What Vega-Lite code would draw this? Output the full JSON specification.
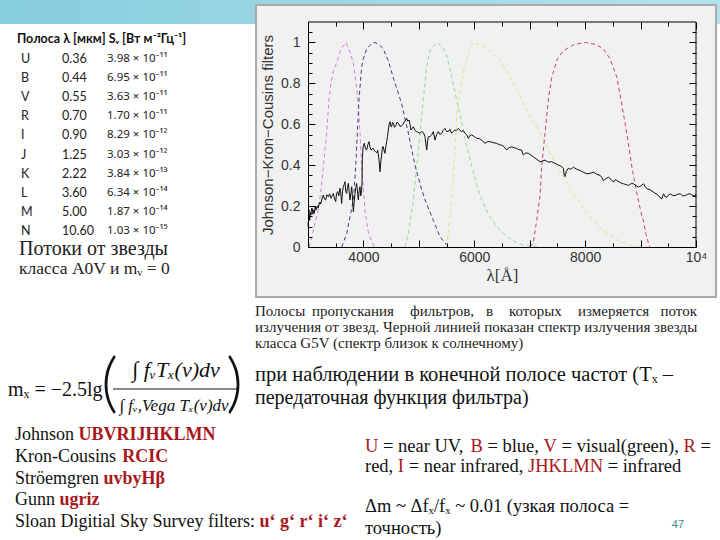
{
"$schema":"https://vega.github.io/schema/vega-lite/v6.json",
"width":388,"height":225,
"autosize":{"type":"none"},
"padding":{"left":308,"top":22,"right":24,"bottom":293},
"background":"white",
"config":{"view":{"stroke":null}},
"datasets":{
"filters":[
{"band":"U","wl":3020,"t":0},{"band":"U","wl":3080,"t":0.06},{"band":"U","wl":3130,"t":0.12},{"band":"U","wl":3186,"t":0.18},{"band":"U","wl":3240,"t":0.29},{"band":"U","wl":3276,"t":0.39},{"band":"U","wl":3337,"t":0.556},{"band":"U","wl":3379,"t":0.72},{"band":"U","wl":3420,"t":0.81},{"band":"U","wl":3470,"t":0.87},{"band":"U","wl":3517,"t":0.9},{"band":"U","wl":3600,"t":0.97},{"band":"U","wl":3686,"t":1.0},{"band":"U","wl":3760,"t":0.95},{"band":"U","wl":3818,"t":0.9},{"band":"U","wl":3878,"t":0.78},{"band":"U","wl":3908,"t":0.69},{"band":"U","wl":3940,"t":0.55},{"band":"U","wl":3969,"t":0.39},{"band":"U","wl":4000,"t":0.28},{"band":"U","wl":4028,"t":0.18},{"band":"U","wl":4060,"t":0.12},{"band":"U","wl":4088,"t":0.075},{"band":"U","wl":4149,"t":0.027},{"band":"U","wl":4200,"t":0},
{"band":"B","wl":3608,"t":0},{"band":"B","wl":3698,"t":0.065},{"band":"B","wl":3758,"t":0.148},{"band":"B","wl":3818,"t":0.23},{"band":"B","wl":3860,"t":0.39},{"band":"B","wl":3890,"t":0.556},{"band":"B","wl":3920,"t":0.72},{"band":"B","wl":3968,"t":0.88},{"band":"B","wl":3998,"t":0.92},{"band":"B","wl":4060,"t":0.97},{"band":"B","wl":4150,"t":0.995},{"band":"B","wl":4209,"t":1.0},{"band":"B","wl":4280,"t":0.99},{"band":"B","wl":4355,"t":0.97},{"band":"B","wl":4450,"t":0.91},{"band":"B","wl":4536,"t":0.83},{"band":"B","wl":4690,"t":0.7},{"band":"B","wl":4800,"t":0.57},{"band":"B","wl":4930,"t":0.4},{"band":"B","wl":5018,"t":0.31},{"band":"B","wl":5111,"t":0.23},{"band":"B","wl":5261,"t":0.13},{"band":"B","wl":5381,"t":0.05},{"band":"B","wl":5502,"t":0.01},{"band":"B","wl":5560,"t":0},
{"band":"V","wl":4750,"t":0},{"band":"V","wl":4810,"t":0.065},{"band":"V","wl":4900,"t":0.23},{"band":"V","wl":4990,"t":0.47},{"band":"V","wl":5080,"t":0.72},{"band":"V","wl":5139,"t":0.88},{"band":"V","wl":5200,"t":0.96},{"band":"V","wl":5320,"t":1.0},{"band":"V","wl":5420,"t":0.98},{"band":"V","wl":5500,"t":0.94},{"band":"V","wl":5560,"t":0.87},{"band":"V","wl":5620,"t":0.8},{"band":"V","wl":5680,"t":0.72},{"band":"V","wl":5742,"t":0.65},{"band":"V","wl":5830,"t":0.53},{"band":"V","wl":5923,"t":0.43},{"band":"V","wl":6010,"t":0.34},{"band":"V","wl":6103,"t":0.25},{"band":"V","wl":6253,"t":0.16},{"band":"V","wl":6404,"t":0.1},{"band":"V","wl":6554,"t":0.06},{"band":"V","wl":6705,"t":0.03},{"band":"V","wl":6850,"t":0.012},{"band":"V","wl":7005,"t":0.004},{"band":"V","wl":7186,"t":0},
{"band":"R","wl":5502,"t":0},{"band":"R","wl":5562,"t":0.148},{"band":"R","wl":5610,"t":0.311},{"band":"R","wl":5652,"t":0.474},{"band":"R","wl":5682,"t":0.636},{"band":"R","wl":5712,"t":0.72},{"band":"R","wl":5801,"t":0.85},{"band":"R","wl":5900,"t":0.96},{"band":"R","wl":5982,"t":1.0},{"band":"R","wl":6100,"t":0.99},{"band":"R","wl":6283,"t":0.96},{"band":"R","wl":6500,"t":0.9},{"band":"R","wl":6790,"t":0.76},{"band":"R","wl":7000,"t":0.64},{"band":"R","wl":7186,"t":0.56},{"band":"R","wl":7400,"t":0.44},{"band":"R","wl":7700,"t":0.3},{"band":"R","wl":7970,"t":0.19},{"band":"R","wl":8271,"t":0.09},{"band":"R","wl":8572,"t":0.035},{"band":"R","wl":8800,"t":0.01},{"band":"R","wl":9000,"t":0},
{"band":"I","wl":7005,"t":0},{"band":"I","wl":7065,"t":0.02},{"band":"I","wl":7126,"t":0.13},{"band":"I","wl":7186,"t":0.25},{"band":"I","wl":7216,"t":0.39},{"band":"I","wl":7276,"t":0.556},{"band":"I","wl":7336,"t":0.72},{"band":"I","wl":7398,"t":0.83},{"band":"I","wl":7500,"t":0.92},{"band":"I","wl":7608,"t":0.96},{"band":"I","wl":7800,"t":0.99},{"band":"I","wl":8000,"t":1.0},{"band":"I","wl":8200,"t":0.99},{"band":"I","wl":8331,"t":0.967},{"band":"I","wl":8450,"t":0.92},{"band":"I","wl":8572,"t":0.83},{"band":"I","wl":8660,"t":0.7},{"band":"I","wl":8753,"t":0.553},{"band":"I","wl":8850,"t":0.38},{"band":"I","wl":8934,"t":0.26},{"band":"I","wl":9000,"t":0.18},{"band":"I","wl":9049,"t":0.13},{"band":"I","wl":9100,"t":0.06},{"band":"I","wl":9140,"t":0.02},{"band":"I","wl":9170,"t":0}
],
"spectrum":[
{"wl":3000,"f":0.12},{"wl":3006,"f":0.099},{"wl":3012,"f":0.16},{"wl":3018,"f":0.181},{"wl":3030,"f":0.13},{"wl":3042,"f":0.17},{"wl":3054,"f":0.156},{"wl":3066,"f":0.19},{"wl":3078,"f":0.189},{"wl":3090,"f":0.16},{"wl":3102,"f":0.18},{"wl":3114,"f":0.165},{"wl":3130,"f":0.2},{"wl":3145,"f":0.18},{"wl":3156,"f":0.197},{"wl":3170,"f":0.2},{"wl":3185,"f":0.19},{"wl":3198,"f":0.21},{"wl":3215,"f":0.22},{"wl":3230,"f":0.21},{"wl":3247,"f":0.23},{"wl":3262,"f":0.245},{"wl":3277,"f":0.254},{"wl":3295,"f":0.235},{"wl":3319,"f":0.23},{"wl":3340,"f":0.255},{"wl":3367,"f":0.246},{"wl":3390,"f":0.26},{"wl":3415,"f":0.238},{"wl":3435,"f":0.25},{"wl":3457,"f":0.262},{"wl":3475,"f":0.24},{"wl":3499,"f":0.222},{"wl":3515,"f":0.26},{"wl":3535,"f":0.271},{"wl":3555,"f":0.25},{"wl":3577,"f":0.287},{"wl":3592,"f":0.26},{"wl":3607,"f":0.213},{"wl":3622,"f":0.27},{"wl":3637,"f":0.295},{"wl":3652,"f":0.305},{"wl":3667,"f":0.319},{"wl":3682,"f":0.27},{"wl":3698,"f":0.262},{"wl":3712,"f":0.29},{"wl":3728,"f":0.311},{"wl":3743,"f":0.27},{"wl":3758,"f":0.23},{"wl":3773,"f":0.26},{"wl":3788,"f":0.295},{"wl":3803,"f":0.24},{"wl":3818,"f":0.173},{"wl":3833,"f":0.22},{"wl":3848,"f":0.262},{"wl":3863,"f":0.29},{"wl":3878,"f":0.311},{"wl":3893,"f":0.27},{"wl":3908,"f":0.23},{"wl":3923,"f":0.275},{"wl":3938,"f":0.295},{"wl":3953,"f":0.25},{"wl":3968,"f":0.279},{"wl":3975,"f":0.32},{"wl":3980,"f":0.434},{"wl":3995,"f":0.49},{"wl":4016,"f":0.507},{"wl":4037,"f":0.48},{"wl":4058,"f":0.474},{"wl":4080,"f":0.5},{"wl":4100,"f":0.515},{"wl":4118,"f":0.49},{"wl":4137,"f":0.474},{"wl":4158,"f":0.48},{"wl":4179,"f":0.482},{"wl":4200,"f":0.47},{"wl":4221,"f":0.466},{"wl":4240,"f":0.46},{"wl":4257,"f":0.474},{"wl":4280,"f":0.43},{"wl":4299,"f":0.368},{"wl":4314,"f":0.42},{"wl":4329,"f":0.45},{"wl":4344,"f":0.49},{"wl":4359,"f":0.49},{"wl":4374,"f":0.47},{"wl":4389,"f":0.458},{"wl":4404,"f":0.49},{"wl":4419,"f":0.515},{"wl":4434,"f":0.54},{"wl":4449,"f":0.572},{"wl":4464,"f":0.6},{"wl":4479,"f":0.613},{"wl":4494,"f":0.59},{"wl":4509,"f":0.588},{"wl":4525,"f":0.61},{"wl":4540,"f":0.605},{"wl":4560,"f":0.585},{"wl":4582,"f":0.592},{"wl":4605,"f":0.61},{"wl":4630,"f":0.605},{"wl":4660,"f":0.59},{"wl":4690,"f":0.592},{"wl":4715,"f":0.6},{"wl":4738,"f":0.613},{"wl":4760,"f":0.62},{"wl":4780,"f":0.629},{"wl":4800,"f":0.615},{"wl":4822,"f":0.621},{"wl":4840,"f":0.6},{"wl":4858,"f":0.572},{"wl":4880,"f":0.58},{"wl":4900,"f":0.588},{"wl":4930,"f":0.57},{"wl":4960,"f":0.564},{"wl":4990,"f":0.56},{"wl":5021,"f":0.556},{"wl":5050,"f":0.565},{"wl":5081,"f":0.559},{"wl":5110,"f":0.54},{"wl":5141,"f":0.474},{"wl":5160,"f":0.52},{"wl":5171,"f":0.539},{"wl":5200,"f":0.54},{"wl":5231,"f":0.548},{"wl":5261,"f":0.564},{"wl":5291,"f":0.523},{"wl":5320,"f":0.55},{"wl":5351,"f":0.564},{"wl":5380,"f":0.55},{"wl":5411,"f":0.556},{"wl":5440,"f":0.57},{"wl":5472,"f":0.58},{"wl":5500,"f":0.565},{"wl":5532,"f":0.564},{"wl":5560,"f":0.575},{"wl":5592,"f":0.556},{"wl":5620,"f":0.565},{"wl":5652,"f":0.572},{"wl":5680,"f":0.57},{"wl":5712,"f":0.58},{"wl":5740,"f":0.57},{"wl":5772,"f":0.564},{"wl":5800,"f":0.57},{"wl":5832,"f":0.556},{"wl":5860,"f":0.55},{"wl":5893,"f":0.531},{"wl":5920,"f":0.545},{"wl":5953,"f":0.548},{"wl":6000,"f":0.54},{"wl":6043,"f":0.531},{"wl":6090,"f":0.53},{"wl":6133,"f":0.523},{"wl":6160,"f":0.515},{"wl":6193,"f":0.507},{"wl":6240,"f":0.515},{"wl":6284,"f":0.515},{"wl":6340,"f":0.51},{"wl":6404,"f":0.507},{"wl":6450,"f":0.5},{"wl":6494,"f":0.498},{"wl":6540,"f":0.49},{"wl":6584,"f":0.474},{"wl":6620,"f":0.485},{"wl":6674,"f":0.49},{"wl":6720,"f":0.485},{"wl":6765,"f":0.482},{"wl":6810,"f":0.475},{"wl":6855,"f":0.474},{"wl":6870,"f":0.46},{"wl":6885,"f":0.45},{"wl":6930,"f":0.46},{"wl":6975,"f":0.458},{"wl":7020,"f":0.45},{"wl":7065,"f":0.441},{"wl":7120,"f":0.43},{"wl":7186,"f":0.417},{"wl":7230,"f":0.42},{"wl":7276,"f":0.425},{"wl":7330,"f":0.415},{"wl":7396,"f":0.417},{"wl":7450,"f":0.41},{"wl":7516,"f":0.401},{"wl":7560,"f":0.395},{"wl":7590,"f":0.39},{"wl":7607,"f":0.385},{"wl":7622,"f":0.35},{"wl":7637,"f":0.344},{"wl":7660,"f":0.37},{"wl":7697,"f":0.385},{"wl":7740,"f":0.38},{"wl":7789,"f":0.39},{"wl":7850,"f":0.38},{"wl":7910,"f":0.374},{"wl":7970,"f":0.365},{"wl":8030,"f":0.358},{"wl":8090,"f":0.36},{"wl":8151,"f":0.366},{"wl":8210,"f":0.355},{"wl":8271,"f":0.35},{"wl":8300,"f":0.34},{"wl":8331,"f":0.325},{"wl":8380,"f":0.335},{"wl":8422,"f":0.341},{"wl":8470,"f":0.33},{"wl":8512,"f":0.317},{"wl":8545,"f":0.33},{"wl":8572,"f":0.325},{"wl":8630,"f":0.315},{"wl":8693,"f":0.309},{"wl":8740,"f":0.305},{"wl":8783,"f":0.301},{"wl":8830,"f":0.31},{"wl":8873,"f":0.309},{"wl":8920,"f":0.3},{"wl":8964,"f":0.293},{"wl":9010,"f":0.3},{"wl":9054,"f":0.309},{"wl":9085,"f":0.295},{"wl":9114,"f":0.285},{"wl":9170,"f":0.28},{"wl":9235,"f":0.268},{"wl":9280,"f":0.26},{"wl":9325,"f":0.252},{"wl":9355,"f":0.24},{"wl":9385,"f":0.236},{"wl":9400,"f":0.25},{"wl":9415,"f":0.26},{"wl":9445,"f":0.245},{"wl":9476,"f":0.244},{"wl":9506,"f":0.255},{"wl":9536,"f":0.26},{"wl":9580,"f":0.252},{"wl":9626,"f":0.252},{"wl":9670,"f":0.258},{"wl":9717,"f":0.26},{"wl":9760,"f":0.25},{"wl":9807,"f":0.252},{"wl":9850,"f":0.258},{"wl":9897,"f":0.26},{"wl":9950,"f":0.25},{"wl":10000,"f":0.255}
],
"table":[
{"band":"U","lam":0.36,"flux":"3.98 × 10⁻¹¹"},
{"band":"B","lam":0.44,"flux":"6.95 × 10⁻¹¹"},
{"band":"V","lam":0.55,"flux":"3.63 × 10⁻¹¹"},
{"band":"R","lam":0.70,"flux":"1.70 × 10⁻¹¹"},
{"band":"I","lam":0.90,"flux":"8.29 × 10⁻¹²"},
{"band":"J","lam":1.25,"flux":"3.03 × 10⁻¹²"},
{"band":"K","lam":2.22,"flux":"3.84 × 10⁻¹³"},
{"band":"L","lam":3.60,"flux":"6.34 × 10⁻¹⁴"},
{"band":"M","lam":5.00,"flux":"1.87 × 10⁻¹⁴"},
{"band":"N","lam":10.60,"flux":"1.03 × 10⁻¹⁵"}
],
"families":[
{"line":1,"name":"Johnson","filters":"UBVRIJHKLMN"},
{"line":2,"name":"Kron-Cousins","filters":"RCIC"},
{"line":3,"name":"Ströemgren","filters":"uvbyHβ"},
{"line":4,"name":"Gunn","filters":"ugriz"},
{"line":5,"name":"Sloan Digitial Sky Survey filters:","filters":"u‘ g‘ r‘ i‘ z‘"}
],
"bandnames":[
{"line":1,"seg":1,"kind":"hl","text":"U"},
{"line":1,"seg":2,"kind":"plain","text":"= near UV,"},
{"line":1,"seg":3,"kind":"hl","text":"B"},
{"line":1,"seg":4,"kind":"plain","text":"= blue,"},
{"line":1,"seg":5,"kind":"hl","text":"V"},
{"line":1,"seg":6,"kind":"plain","text":"= visual(green),"},
{"line":1,"seg":7,"kind":"hl","text":"R"},
{"line":1,"seg":8,"kind":"plain","text":"="},
{"line":2,"seg":1,"kind":"plain","text":"red,"},
{"line":2,"seg":2,"kind":"hl","text":"I"},
{"line":2,"seg":3,"kind":"plain","text":"= near infrared,"},
{"line":2,"seg":4,"kind":"hl","text":"JHKLMN"},
{"line":2,"seg":5,"kind":"plain","text":"= infrared"}
]
},
"layer":[
{
"layer":[
{"data":{"values":[{}]},"mark":{"type":"rect","fill":{"gradient":"linear","x1":0,"y1":0,"x2":1,"y2":0,"stops":[{"offset":0,"color":"#86cddd"},{"offset":1,"color":"#b4e2ec"}]}},
"encoding":{"x":{"datum":-2557,"type":"quantitative","scale":{"domain":[3000,10000],"nice":false,"zero":false},"axis":null},"x2":{"datum":10433},"y":{"datum":1.2076,"type":"quantitative","scale":{"domain":[0,1.1],"nice":false,"zero":false},"axis":null},"y2":{"datum":1.09}}},
{"data":{"values":[{}]},"mark":{"type":"rect","fill":"#f1f1f1","stroke":"#aaaaaa","strokeWidth":2},
"encoding":{"x":{"datum":2062,"type":"quantitative","scale":{"domain":[3000,10000],"nice":false,"zero":false},
"axis":{"orient":"bottom","values":[4000,6000,8000,10000],"format":"d","labelExpr":"datum.value == 10000 ? '10⁴' : datum.label","ticks":false,"domain":true,"domainColor":"#000","domainWidth":1,"labelPadding":3,"labelFont":"Liberation Sans","labelFontSize":14,"labelColor":"#333","labelFlush":false,"labelOverlap":false,"title":"λ[Å]","titleFont":"Liberation Serif","titleFontSize":17,"titleFontWeight":"normal","titleColor":"#333","titlePadding":3,"grid":false,"zindex":1}},
"x2":{"datum":10361},
"y":{"datum":1.1831,"type":"quantitative","scale":{"domain":[0,1.1],"nice":false,"zero":false},
"axis":{"orient":"left","values":[0,0.2,0.4,0.6,0.8,1],"format":"~g","ticks":false,"domain":true,"domainColor":"#000","domainWidth":1,"labelPadding":8,"labelFont":"Liberation Sans","labelFontSize":14,"labelColor":"#333","labelFlush":false,"labelOverlap":false,"title":"Johnson−Kron−Cousins filters","titleFont":"Liberation Sans","titleFontSize":15,"titleFontWeight":"normal","titleColor":"#333","titlePadding":5,"grid":false,"zindex":1}},
"y2":{"datum":-0.2444}}},
{"data":{"name":"filters"},"mark":{"type":"line","strokeDash":[4,3],"strokeWidth":1},
"encoding":{"x":{"field":"wl","type":"quantitative","scale":{"domain":[3000,10000],"nice":false,"zero":false},
"axis":{"orient":"bottom","values":[3000,4000,5000,6000,7000,8000,9000,10000],"labels":false,"domain":false,"ticks":true,"tickSize":7,"offset":-7,"tickColor":"#000","grid":false,"title":null,"zindex":1}},
"y":{"field":"t","type":"quantitative","scale":{"domain":[0,1.1],"nice":false,"zero":false},
"axis":{"orient":"left","values":[0,0.2,0.4,0.6,0.8,1],"labels":false,"domain":false,"ticks":true,"tickSize":7,"offset":-7,"tickColor":"#000","grid":false,"title":null,"zindex":1}},
"color":{"field":"band","type":"nominal","scale":{"domain":["U","B","V","R","I"],"range":["#cf82d6","#3b3f7c","#8fdc9a","#e3e28a","#c8456b"]},"legend":null}}},
{"data":{"name":"spectrum"},"mark":{"type":"line","color":"#111","strokeWidth":1},
"encoding":{"x":{"field":"wl","type":"quantitative","scale":{"domain":[3000,10000],"nice":false,"zero":false},
"axis":{"orient":"bottom","values":[3500,4500,5500,6500,7500,8500,9500],"labels":false,"domain":false,"ticks":true,"tickSize":4,"offset":-4,"tickColor":"#000","grid":false,"title":null,"zindex":1}},
"y":{"field":"f","type":"quantitative","scale":{"domain":[0,1.1],"nice":false,"zero":false},
"axis":{"orient":"left","values":[0.05,0.1,0.15,0.25,0.3,0.35,0.45,0.5,0.55,0.65,0.7,0.75,0.85,0.9,0.95,1.05],"labels":false,"domain":false,"ticks":true,"tickSize":4,"offset":-4,"tickColor":"#000","grid":false,"title":null,"zindex":1}}}},
{"data":{"values":[{}]},"mark":{"type":"rule","color":"#000","strokeWidth":1},
"encoding":{"x":{"datum":3000,"type":"quantitative","scale":{"domain":[3000,10000],"nice":false,"zero":false},
"axis":{"orient":"top","values":[3000,4000,5000,6000,7000,8000,9000,10000],"labels":false,"domain":false,"ticks":true,"tickSize":7,"offset":-7,"tickColor":"#000","grid":false,"title":null,"zindex":1}},
"x2":{"datum":10000},
"y":{"datum":1.1,"type":"quantitative","scale":{"domain":[0,1.1],"nice":false,"zero":false},
"axis":{"orient":"right","values":[0,0.2,0.4,0.6,0.8,1],"labels":false,"domain":false,"ticks":true,"tickSize":7,"offset":-7,"tickColor":"#000","grid":false,"title":null,"zindex":1}}}},
{"data":{"values":[{}]},"mark":{"type":"rule","color":"#000","strokeWidth":1},
"encoding":{"x":{"datum":10000,"type":"quantitative","scale":{"domain":[3000,10000],"nice":false,"zero":false},
"axis":{"orient":"top","values":[3500,4500,5500,6500,7500,8500,9500],"labels":false,"domain":false,"ticks":true,"tickSize":4,"offset":-4,"tickColor":"#000","grid":false,"title":null,"zindex":1}},
"y":{"datum":0,"type":"quantitative","scale":{"domain":[0,1.1],"nice":false,"zero":false},
"axis":{"orient":"right","values":[0.05,0.1,0.15,0.25,0.3,0.35,0.45,0.5,0.55,0.65,0.7,0.75,0.85,0.9,0.95,1.05],"labels":false,"domain":false,"ticks":true,"tickSize":4,"offset":-4,"tickColor":"#000","grid":false,"title":null,"zindex":1}},
"y2":{"datum":1.1}}},
{"data":{"values":[{}]},"mark":{"type":"text","text":"Полоса λ [мкм] Sᵥ [Вт м⁻²Гц⁻¹]","align":"left","baseline":"middle","font":"Lato","fontSize":12.5,"fontWeight":"bold","color":"#111"},
"encoding":{"x":{"datum":-2250,"type":"quantitative","scale":{"domain":[3000,10000],"nice":false,"zero":false},"axis":null},"y":{"datum":1.0169,"type":"quantitative","scale":{"domain":[0,1.1],"nice":false,"zero":false},"axis":null}}},
{"data":{"values":[{}]},"mark":{"type":"text","text":"Потоки от звезды","align":"left","baseline":"middle","font":"Liberation Serif","fontSize":20,"color":"#222"},
"encoding":{"x":{"datum":-2214,"type":"quantitative","scale":{"domain":[3000,10000],"nice":false,"zero":false},"axis":null},"y":{"datum":-0.0098,"type":"quantitative","scale":{"domain":[0,1.1],"nice":false,"zero":false},"axis":null}}},
{"data":{"values":[{}]},"mark":{"type":"text","text":"класса A0V и mᵥ = 0","align":"left","baseline":"middle","font":"Liberation Serif","fontSize":17.5,"color":"#222"},
"encoding":{"x":{"datum":-2214,"type":"quantitative","scale":{"domain":[3000,10000],"nice":false,"zero":false},"axis":null},"y":{"datum":-0.1076,"type":"quantitative","scale":{"domain":[0,1.1],"nice":false,"zero":false},"axis":null}}},
{"data":{"values":[{}]},"mark":{"type":"text","text":"Полосы","align":"left","baseline":"middle","font":"Liberation Serif","fontSize":15,"color":"#222"},
"encoding":{"x":{"datum":2044,"type":"quantitative","scale":{"domain":[3000,10000],"nice":false,"zero":false},"axis":null},"y":{"datum":-0.3129,"type":"quantitative","scale":{"domain":[0,1.1],"nice":false,"zero":false},"axis":null}}},
{"data":{"values":[{}]},"mark":{"type":"text","text":"пропускания","align":"left","baseline":"middle","font":"Liberation Serif","fontSize":15,"color":"#222"},
"encoding":{"x":{"datum":3072,"type":"quantitative","scale":{"domain":[3000,10000],"nice":false,"zero":false},"axis":null},"y":{"datum":-0.3129,"type":"quantitative","scale":{"domain":[0,1.1],"nice":false,"zero":false},"axis":null}}},
{"data":{"values":[{}]},"mark":{"type":"text","text":"фильтров,","align":"left","baseline":"middle","font":"Liberation Serif","fontSize":15,"color":"#222"},
"encoding":{"x":{"datum":4840,"type":"quantitative","scale":{"domain":[3000,10000],"nice":false,"zero":false},"axis":null},"y":{"datum":-0.3129,"type":"quantitative","scale":{"domain":[0,1.1],"nice":false,"zero":false},"axis":null}}},
{"data":{"values":[{}]},"mark":{"type":"text","text":"в","align":"left","baseline":"middle","font":"Liberation Serif","fontSize":15,"color":"#222"},
"encoding":{"x":{"datum":6211,"type":"quantitative","scale":{"domain":[3000,10000],"nice":false,"zero":false},"axis":null},"y":{"datum":-0.3129,"type":"quantitative","scale":{"domain":[0,1.1],"nice":false,"zero":false},"axis":null}}},
{"data":{"values":[{}]},"mark":{"type":"text","text":"которых","align":"left","baseline":"middle","font":"Liberation Serif","fontSize":15,"color":"#222"},
"encoding":{"x":{"datum":6626,"type":"quantitative","scale":{"domain":[3000,10000],"nice":false,"zero":false},"axis":null},"y":{"datum":-0.3129,"type":"quantitative","scale":{"domain":[0,1.1],"nice":false,"zero":false},"axis":null}}},
{"data":{"values":[{}]},"mark":{"type":"text","text":"измеряется","align":"left","baseline":"middle","font":"Liberation Serif","fontSize":15,"color":"#222"},
"encoding":{"x":{"datum":7871,"type":"quantitative","scale":{"domain":[3000,10000],"nice":false,"zero":false},"axis":null},"y":{"datum":-0.3129,"type":"quantitative","scale":{"domain":[0,1.1],"nice":false,"zero":false},"axis":null}}},
{"data":{"values":[{}]},"mark":{"type":"text","text":"поток","align":"right","baseline":"middle","font":"Liberation Serif","fontSize":15,"color":"#222"},
"encoding":{"x":{"datum":10018,"type":"quantitative","scale":{"domain":[3000,10000],"nice":false,"zero":false},"axis":null},"y":{"datum":-0.3129,"type":"quantitative","scale":{"domain":[0,1.1],"nice":false,"zero":false},"axis":null}}},
{"data":{"values":[{}]},"mark":{"type":"text","text":"излучения от звезд. Черной линией показан спектр излучения звезды","align":"left","baseline":"middle","font":"Liberation Serif","fontSize":15,"color":"#222"},
"encoding":{"x":{"datum":2044,"type":"quantitative","scale":{"domain":[3000,10000],"nice":false,"zero":false},"axis":null},"y":{"datum":-0.3911,"type":"quantitative","scale":{"domain":[0,1.1],"nice":false,"zero":false},"axis":null}}},
{"data":{"values":[{}]},"mark":{"type":"text","text":"класса G5V (спектр близок к солнечному)","align":"left","baseline":"middle","font":"Liberation Serif","fontSize":15,"color":"#222"},
"encoding":{"x":{"datum":2044,"type":"quantitative","scale":{"domain":[3000,10000],"nice":false,"zero":false},"axis":null},"y":{"datum":-0.4693,"type":"quantitative","scale":{"domain":[0,1.1],"nice":false,"zero":false},"axis":null}}},
{"data":{"values":[{}]},"mark":{"type":"text","text":"mₓ = −2.5lg","align":"left","baseline":"middle","font":"Liberation Serif","fontSize":20,"color":"#111"},
"encoding":{"x":{"datum":-2412,"type":"quantitative","scale":{"domain":[3000,10000],"nice":false,"zero":false},"axis":null},"y":{"datum":-0.699,"type":"quantitative","scale":{"domain":[0,1.1],"nice":false,"zero":false},"axis":null}}},
{"data":{"values":[{}]},"mark":{"type":"text","text":"(","align":"left","baseline":"middle","font":"Lato","fontWeight":300,"fontSize":66,"color":"#111"},
"encoding":{"x":{"datum":-734,"type":"quantitative","scale":{"domain":[3000,10000],"nice":false,"zero":false},"axis":null},"y":{"datum":-0.6747,"type":"quantitative","scale":{"domain":[0,1.1],"nice":false,"zero":false},"axis":null}}},
{"data":{"values":[{}]},"mark":{"type":"text","text":")","align":"right","baseline":"middle","font":"Lato","fontWeight":300,"fontSize":66,"color":"#111"},
"encoding":{"x":{"datum":1827,"type":"quantitative","scale":{"domain":[3000,10000],"nice":false,"zero":false},"axis":null},"y":{"datum":-0.6747,"type":"quantitative","scale":{"domain":[0,1.1],"nice":false,"zero":false},"axis":null}}},
{"data":{"values":[{}]},"mark":{"type":"text","text":"∫ fᵥTₓ(ν)dν","align":"center","baseline":"middle","font":"Liberation Serif","fontStyle":"italic","fontSize":22,"color":"#111"},
"encoding":{"x":{"datum":619,"type":"quantitative","scale":{"domain":[3000,10000],"nice":false,"zero":false},"axis":null},"y":{"datum":-0.6013,"type":"quantitative","scale":{"domain":[0,1.1],"nice":false,"zero":false},"axis":null}}},
{"data":{"values":[{}]},"mark":{"type":"rule","color":"#111","strokeWidth":1},
"encoding":{"x":{"datum":-518,"type":"quantitative","scale":{"domain":[3000,10000],"nice":false,"zero":false},"axis":null},"x2":{"datum":1737},"y":{"datum":-0.6942,"type":"quantitative","scale":{"domain":[0,1.1],"nice":false,"zero":false},"axis":null}}},
{"data":{"values":[{}]},"mark":{"type":"text","text":"∫ fᵥ,Vega Tₓ(ν)dν","align":"center","baseline":"middle","font":"Liberation Serif","fontStyle":"italic","fontSize":17,"color":"#111"},
"encoding":{"x":{"datum":583,"type":"quantitative","scale":{"domain":[3000,10000],"nice":false,"zero":false},"axis":null},"y":{"datum":-0.7773,"type":"quantitative","scale":{"domain":[0,1.1],"nice":false,"zero":false},"axis":null}}},
{"data":{"values":[{}]},"mark":{"type":"text","text":"при наблюдении в конечной полосе частот (Tₓ –","align":"left","baseline":"middle","font":"Liberation Serif","fontSize":20.5,"color":"#111"},
"encoding":{"x":{"datum":2044,"type":"quantitative","scale":{"domain":[3000,10000],"nice":false,"zero":false},"axis":null},"y":{"datum":-0.6258,"type":"quantitative","scale":{"domain":[0,1.1],"nice":false,"zero":false},"axis":null}}},
{"data":{"values":[{}]},"mark":{"type":"text","text":"передаточная функция фильтра)","align":"left","baseline":"middle","font":"Liberation Serif","fontSize":20,"color":"#111"},
"encoding":{"x":{"datum":2044,"type":"quantitative","scale":{"domain":[3000,10000],"nice":false,"zero":false},"axis":null},"y":{"datum":-0.7382,"type":"quantitative","scale":{"domain":[0,1.1],"nice":false,"zero":false},"axis":null}}},
{"data":{"values":[{}]},"mark":{"type":"text","text":"Δm ~ Δfₓ/fₓ ~ 0.01 (узкая полоса =","align":"left","baseline":"middle","font":"Liberation Serif","fontSize":18.5,"color":"#111"},
"encoding":{"x":{"datum":4028,"type":"quantitative","scale":{"domain":[3000,10000],"nice":false,"zero":false},"axis":null},"y":{"datum":-1.2662,"type":"quantitative","scale":{"domain":[0,1.1],"nice":false,"zero":false},"axis":null}}},
{"data":{"values":[{}]},"mark":{"type":"text","text":"точность)","align":"left","baseline":"middle","font":"Liberation Serif","fontSize":18.5,"color":"#111"},
"encoding":{"x":{"datum":4028,"type":"quantitative","scale":{"domain":[3000,10000],"nice":false,"zero":false},"axis":null},"y":{"datum":-1.3738,"type":"quantitative","scale":{"domain":[0,1.1],"nice":false,"zero":false},"axis":null}}},
{"data":{"values":[{}]},"mark":{"type":"text","text":"47","align":"center","baseline":"middle","font":"Liberation Sans","fontSize":11,"color":"#3d8a8e"},
"encoding":{"x":{"datum":9675,"type":"quantitative","scale":{"domain":[3000,10000],"nice":false,"zero":false},"axis":null},"y":{"datum":-1.3591,"type":"quantitative","scale":{"domain":[0,1.1],"nice":false,"zero":false},"axis":null}}}
],
"resolve":{"axis":{"x":"independent","y":"independent"}}
},
{
"data":{"name":"table"},
"encoding":{"y":{"field":"band","type":"ordinal","sort":null,"scale":{"type":"point","domain":["U","B","V","R","I","J","K","L","M","N"],"range":[37,209],"padding":0},"axis":null}},
"layer":[
{"mark":{"type":"text","align":"left","baseline":"middle","font":"Lato","fontSize":12.5,"color":"#222"},"encoding":{"x":{"datum":-2178,"type":"quantitative","scale":{"domain":[3000,10000],"nice":false,"zero":false},"axis":null},"text":{"field":"band"}}},
{"mark":{"type":"text","align":"left","baseline":"middle","font":"Lato","fontSize":12.5,"color":"#222"},"encoding":{"x":{"datum":-1438,"type":"quantitative","scale":{"domain":[3000,10000],"nice":false,"zero":false},"axis":null},"text":{"field":"lam","type":"quantitative","format":".2f"}}},
{"mark":{"type":"text","align":"left","baseline":"middle","font":"Noto Sans","fontSize":11.5,"color":"#222"},"encoding":{"x":{"datum":-626,"type":"quantitative","scale":{"domain":[3000,10000],"nice":false,"zero":false},"axis":null},"text":{"field":"flux"}}}
]
},
{
"data":{"name":"families"},
"encoding":{"y":{"field":"line","type":"ordinal","sort":null,"scale":{"type":"point","domain":[1,2,3,4,5],"range":[413,500],"padding":0},"axis":null}},
"layer":[
{"mark":{"type":"text","align":"left","baseline":"middle","font":"Liberation Serif","fontSize":18,"color":"#111"},"encoding":{"x":{"datum":-2286,"type":"quantitative","scale":{"domain":[3000,10000],"nice":false,"zero":false},"axis":null},"text":{"field":"name"}}},
{"transform":[{"filter":"datum.line == 1"}],"mark":{"type":"text","align":"left","baseline":"middle","font":"Liberation Serif","fontSize":18,"fontWeight":"bold","color":"#a8171b"},"encoding":{"x":{"datum":-1140,"type":"quantitative","scale":{"domain":[3000,10000],"nice":false,"zero":false},"axis":null},"text":{"field":"filters"}}},
{"transform":[{"filter":"datum.line == 2"}],"mark":{"type":"text","align":"left","baseline":"middle","font":"Liberation Serif","fontSize":18,"fontWeight":"bold","color":"#a8171b"},"encoding":{"x":{"datum":-350,"type":"quantitative","scale":{"domain":[3000,10000],"nice":false,"zero":false},"axis":null},"text":{"field":"filters"}}},
{"transform":[{"filter":"datum.line == 3"}],"mark":{"type":"text","align":"left","baseline":"middle","font":"Liberation Serif","fontSize":18,"fontWeight":"bold","color":"#a8171b"},"encoding":{"x":{"datum":-689,"type":"quantitative","scale":{"domain":[3000,10000],"nice":false,"zero":false},"axis":null},"text":{"field":"filters"}}},
{"transform":[{"filter":"datum.line == 4"}],"mark":{"type":"text","align":"left","baseline":"middle","font":"Liberation Serif","fontSize":18,"fontWeight":"bold","color":"#a8171b"},"encoding":{"x":{"datum":-1483,"type":"quantitative","scale":{"domain":[3000,10000],"nice":false,"zero":false},"axis":null},"text":{"field":"filters"}}},
{"transform":[{"filter":"datum.line == 5"}],"mark":{"type":"text","align":"left","baseline":"middle","font":"Liberation Serif","fontSize":18,"fontWeight":"bold","color":"#a8171b"},"encoding":{"x":{"datum":2125,"type":"quantitative","scale":{"domain":[3000,10000],"nice":false,"zero":false},"axis":null},"text":{"field":"filters"}}}
]
},
{
"data":{"name":"bandnames"},
"encoding":{"y":{"field":"line","type":"ordinal","sort":null,"scale":{"type":"point","domain":[1,2],"range":[424,444],"padding":0},"axis":null},
"text":{"field":"text"},
"color":{"field":"kind","type":"nominal","scale":{"domain":["plain","hl"],"range":["#111111","#a8171b"]},"legend":null}},
"layer":[
{"transform":[{"filter":"datum.line == 1 && datum.seg == 1"}],"mark":{"type":"text","align":"left","baseline":"middle","font":"Liberation Serif","fontSize":18.5},"encoding":{"x":{"datum":4028,"type":"quantitative","scale":{"domain":[3000,10000],"nice":false,"zero":false},"axis":null}}},
{"transform":[{"filter":"datum.line == 1 && datum.seg == 2"}],"mark":{"type":"text","align":"left","baseline":"middle","font":"Liberation Serif","fontSize":18.5},"encoding":{"x":{"datum":4353,"type":"quantitative","scale":{"domain":[3000,10000],"nice":false,"zero":false},"axis":null}}},
{"transform":[{"filter":"datum.line == 1 && datum.seg == 3"}],"mark":{"type":"text","align":"left","baseline":"middle","font":"Liberation Serif","fontSize":18.5},"encoding":{"x":{"datum":5931,"type":"quantitative","scale":{"domain":[3000,10000],"nice":false,"zero":false},"axis":null}}},
{"transform":[{"filter":"datum.line == 1 && datum.seg == 4"}],"mark":{"type":"text","align":"left","baseline":"middle","font":"Liberation Serif","fontSize":18.5},"encoding":{"x":{"datum":6237,"type":"quantitative","scale":{"domain":[3000,10000],"nice":false,"zero":false},"axis":null}}},
{"transform":[{"filter":"datum.line == 1 && datum.seg == 5"}],"mark":{"type":"text","align":"left","baseline":"middle","font":"Liberation Serif","fontSize":18.5},"encoding":{"x":{"datum":7250,"type":"quantitative","scale":{"domain":[3000,10000],"nice":false,"zero":false},"axis":null}}},
{"transform":[{"filter":"datum.line == 1 && datum.seg == 6"}],"mark":{"type":"text","align":"left","baseline":"middle","font":"Liberation Serif","fontSize":18.5},"encoding":{"x":{"datum":7575,"type":"quantitative","scale":{"domain":[3000,10000],"nice":false,"zero":false},"axis":null}}},
{"transform":[{"filter":"datum.line == 1 && datum.seg == 7"}],"mark":{"type":"text","align":"left","baseline":"middle","font":"Liberation Serif","fontSize":18.5},"encoding":{"x":{"datum":9774,"type":"quantitative","scale":{"domain":[3000,10000],"nice":false,"zero":false},"axis":null}}},
{"transform":[{"filter":"datum.line == 1 && datum.seg == 8"}],"mark":{"type":"text","align":"left","baseline":"middle","font":"Liberation Serif","fontSize":18.5},"encoding":{"x":{"datum":10080,"type":"quantitative","scale":{"domain":[3000,10000],"nice":false,"zero":false},"axis":null}}},
{"transform":[{"filter":"datum.line == 2 && datum.seg == 1"}],"mark":{"type":"text","align":"left","baseline":"middle","font":"Liberation Serif","fontSize":18.5},"encoding":{"x":{"datum":4028,"type":"quantitative","scale":{"domain":[3000,10000],"nice":false,"zero":false},"axis":null}}},
{"transform":[{"filter":"datum.line == 2 && datum.seg == 2"}],"mark":{"type":"text","align":"left","baseline":"middle","font":"Liberation Serif","fontSize":18.5},"encoding":{"x":{"datum":4621,"type":"quantitative","scale":{"domain":[3000,10000],"nice":false,"zero":false},"axis":null}}},
{"transform":[{"filter":"datum.line == 2 && datum.seg == 3"}],"mark":{"type":"text","align":"left","baseline":"middle","font":"Liberation Serif","fontSize":18.5},"encoding":{"x":{"datum":4816,"type":"quantitative","scale":{"domain":[3000,10000],"nice":false,"zero":false},"axis":null}}},
{"transform":[{"filter":"datum.line == 2 && datum.seg == 4"}],"mark":{"type":"text","align":"left","baseline":"middle","font":"Liberation Serif","fontSize":18.5},"encoding":{"x":{"datum":6969,"type":"quantitative","scale":{"domain":[3000,10000],"nice":false,"zero":false},"axis":null}}},
{"transform":[{"filter":"datum.line == 2 && datum.seg == 5"}],"mark":{"type":"text","align":"left","baseline":"middle","font":"Liberation Serif","fontSize":18.5},"encoding":{"x":{"datum":8406,"type":"quantitative","scale":{"domain":[3000,10000],"nice":false,"zero":false},"axis":null}}}
]
}
],
"resolve":{"scale":{"y":"independent","color":"independent"},"axis":{"x":"independent","y":"independent"}}
}
